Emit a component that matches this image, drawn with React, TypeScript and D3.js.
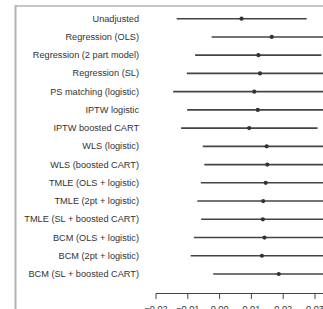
import * as d3 from 'd3';

// Estimated effects with interval bounds, one row per method
const methods = [
  'Unadjusted',
  'Regression (OLS)',
  'Regression (2 part model)',
  'Regression (SL)',
  'PS matching (logistic)',
  'IPTW logistic',
  'IPTW boosted CART',
  'WLS (logistic)',
  'WLS (boosted CART)',
  'TMLE (OLS + logistic)',
  'TMLE (2pt + logistic)',
  'TMLE (SL + boosted CART)',
  'BCM (OLS + logistic)',
  'BCM (2pt + logistic)',
  'BCM (SL + boosted CART)',
];
const estimates = [
  0.0069, 0.0164, 0.0122, 0.0127, 0.0109, 0.012, 0.0093, 0.0148, 0.015, 0.0145,
  0.0137, 0.0136, 0.0141, 0.0133, 0.0186,
];
const lower = [
  -0.0135, -0.0025, -0.0077, -0.0103, -0.0146, -0.0102, -0.0121, -0.0053,
  -0.0048, -0.0059, -0.007, -0.0058, -0.0081, -0.0091, -0.002,
];
const upper = [
  0.0274, 0.0353, 0.032, 0.036, 0.036, 0.034, 0.0308, 0.035, 0.035, 0.035,
  0.034, 0.033, 0.036, 0.036, 0.039,
];
const ticks = [-0.02, -0.01, 0.0, 0.01, 0.02, 0.03, 0.04];

const width = 323;
const height = 309;

export default function App() {
  const x = d3.scaleLinear().domain([-0.02, 0.03]).range([156, 315]);
  const y = d3
    .scalePoint<string>()
    .domain(methods)
    .range([18.7, 274]);
  const axisY = 293.5;
  const fmt = d3.format('.2f');

  return (
    <div style={{ position: 'absolute', left: 0, top: 0 }}>
      <svg
        width={width}
        height={height}
        style={{ display: 'block', fontFamily: 'Liberation Sans, Arial, sans-serif' }}
      >
        <rect width={width} height={height} fill="#fff" />
        {/* panel frame */}
        <line x1={15} x2={width} y1={6} y2={6} stroke="#b3b3b3" strokeWidth={1.5} />
        <line x1={15.5} x2={15.5} y1={5.3} y2={height} stroke="#b3b3b3" strokeWidth={2} />

        {methods.map((m, i) => {
          const cy = y(m)!;
          return (
            <g key={m}>
              <text
                x={139}
                y={cy}
                textAnchor="end"
                dominantBaseline="central"
                fontSize={9.2}
                fill="#333"
              >
                {m}
              </text>
              <line
                x1={x(lower[i])}
                x2={x(upper[i])}
                y1={cy}
                y2={cy}
                stroke="#444"
                strokeWidth={1.6}
              />
              <circle cx={x(estimates[i])} cy={cy} r={2.1} fill="#333" />
            </g>
          );
        })}

        {/* x axis */}
        <line x1={x(-0.02)} x2={width} y1={axisY} y2={axisY} stroke="#444" strokeWidth={1} />
        {ticks.map((t) => (
          <g key={t}>
            <line
              x1={x(t)}
              x2={x(t)}
              y1={axisY}
              y2={axisY + 5.5}
              stroke="#444"
              strokeWidth={1}
            />
            <text
              x={x(t)}
              y={axisY + 12.5}
              textAnchor="middle"
              dominantBaseline="hanging"
              fontSize={9.2}
              fill="#333"
            >
              {fmt(t)}
            </text>
          </g>
        ))}
      </svg>
    </div>
  );
}
